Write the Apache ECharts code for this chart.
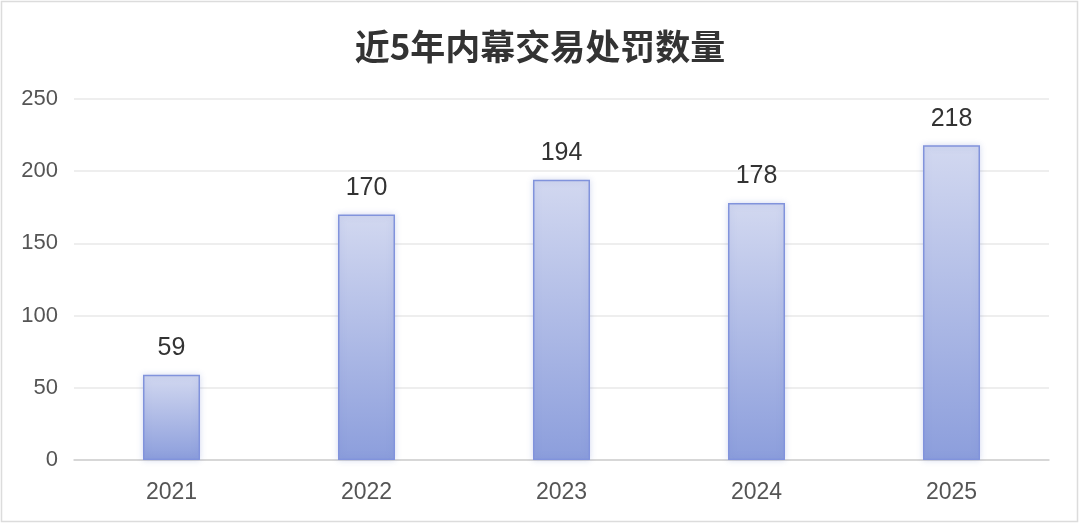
<!DOCTYPE html>
<html>
<head>
<meta charset="utf-8">
<script src="https://cdn.jsdelivr.net/npm/echarts@6/dist/echarts.min.js"></script>
<style>
  html, body { margin: 0; padding: 0; background: #fff; }
  #chart { width: 1080px; height: 524px; }
</style>
</head>
<body>
<div id="chart"></div>
<script>
// 数据
const years = ['2021', '2022', '2023', '2024', '2025'];
const penalties = [59, 170, 194, 178, 218];
const yTicks = [0, 50, 100, 150, 200, 250];

const chart = echarts.init(document.getElementById('chart'), null, { renderer: 'canvas' });

const option = {
    backgroundColor: '#fff',
    animation: false,
    title: {
        text: '近5年内幕交易处罚数量',
        left: 'center',
        top: 24,
        textStyle: {
            fontFamily: 'Noto Sans CJK SC',
            fontSize: 35,
            fontWeight: 'bold',
            color: '#333'
        }
    },
    // 外框
    graphic: [{
        type: 'rect',
        shape: { x: 1.5, y: 1.5, width: 1076, height: 520 },
        style: { fill: 'none', stroke: '#dcdcdc', lineWidth: 1.5 },
        silent: true
    }],
    grid: {
        left: 74,
        right: 31,
        top: 99,
        bottom: 64
    },
    xAxis: {
        type: 'category',
        data: years,
        axisTick: { show: false },
        axisLine: { lineStyle: { color: '#cfcfcf', width: 1.5 } },
        axisLabel: {
            fontFamily: 'Liberation Sans',
            fontSize: 23,
            color: '#555',
            margin: 21
        }
    },
    yAxis: {
        type: 'value',
        min: yTicks[0],
        max: yTicks[yTicks.length - 1],
        interval: 50,
        axisLine: { show: false },
        axisTick: { show: false },
        splitLine: { lineStyle: { color: '#e8e8e8', width: 1.5 } },
        axisLabel: {
            fontFamily: 'Liberation Sans',
            fontSize: 22,
            color: '#555',
            margin: 16
        }
    },
    series: [{
        type: 'bar',
        data: penalties,
        barWidth: 57,
        itemStyle: {
            color: new echarts.graphic.LinearGradient(0, 0, 0, 1, [
                { offset: 0, color: '#d2d8f0' },
                { offset: 1, color: '#8c9edc' }
            ]),
            borderColor: '#8193dc',
            borderWidth: 1.5,
            shadowColor: 'rgba(90, 110, 200, 0.25)',
            shadowBlur: 6
        },
        label: {
            show: true,
            position: 'top',
            distance: 14,
            fontFamily: 'Liberation Sans',
            fontSize: 25,
            color: '#333'
        }
    }]
};

chart.setOption(option);
</script>
</body>
</html>
